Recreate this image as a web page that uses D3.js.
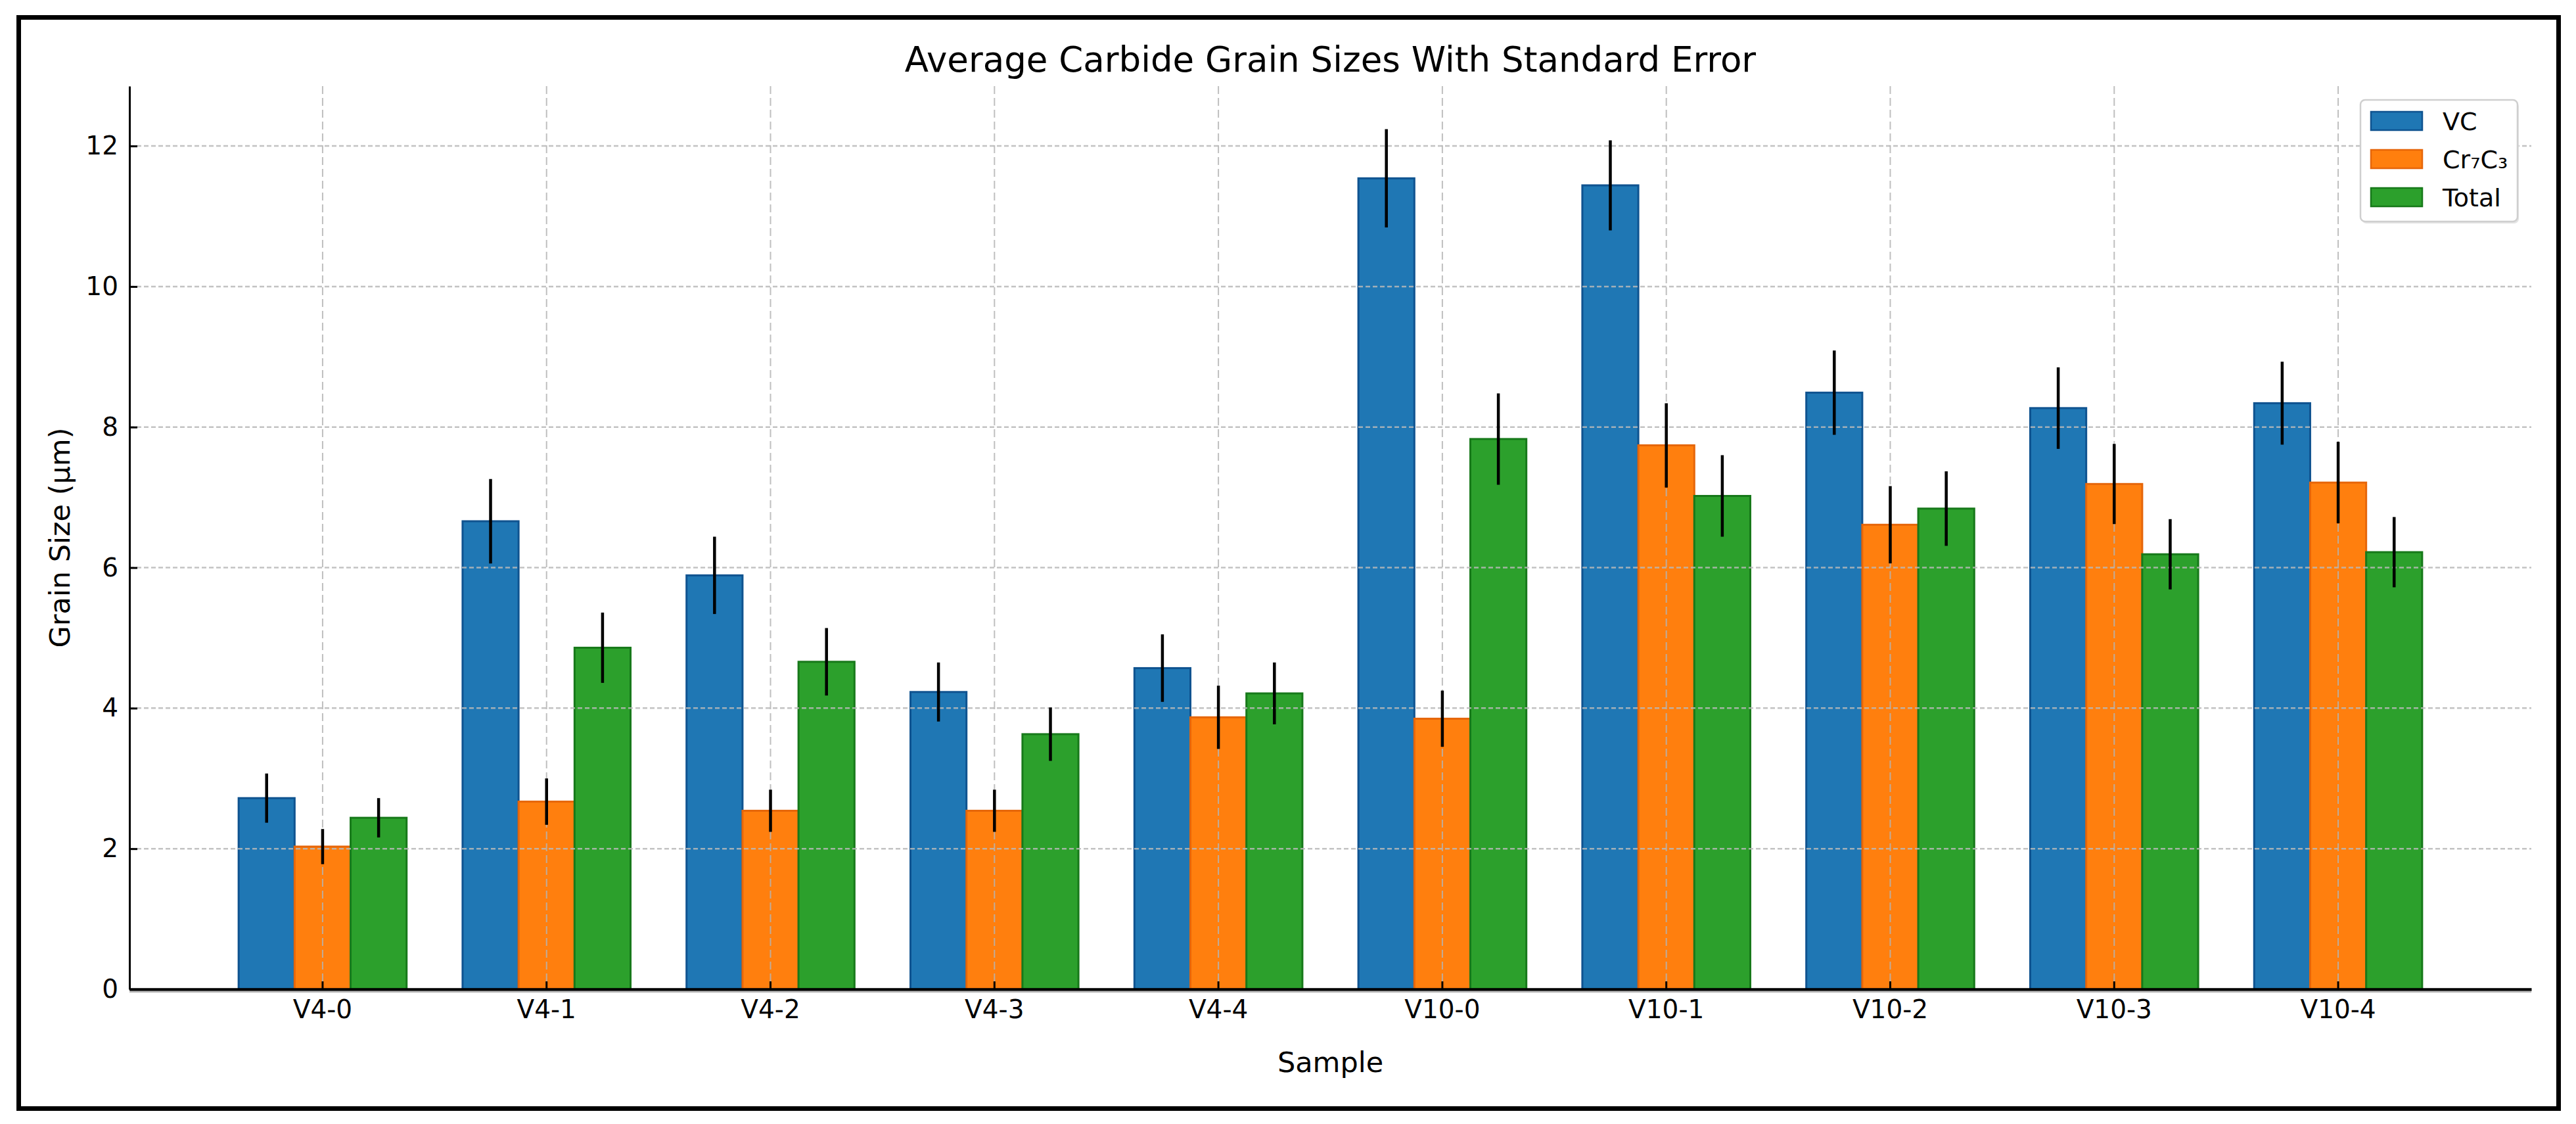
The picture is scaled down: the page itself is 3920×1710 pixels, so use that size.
<!DOCTYPE html>
<html>
<head>
<meta charset="utf-8">
<script src="https://cdn.jsdelivr.net/npm/d3@7"></script>
<style>
  html, body { margin: 0; padding: 0; background: #ffffff; }
  svg { display: block; }
  text { font-family: "DejaVu Sans", sans-serif; fill: #000; }
</style>
</head>
<body>
<svg id="chart" width="3920" height="1710"></svg>
<script>
// ---- data ----
const categories = ["V4-0","V4-1","V4-2","V4-3","V4-4","V10-0","V10-1","V10-2","V10-3","V10-4"];
const seriesNames = ["VC", "Cr\u2087C\u2083", "Total"];
const vcValues    = [2.72, 6.66, 5.89, 4.23, 4.57, 11.54, 11.44, 8.49, 8.27, 8.34];
const vcErrors    = [0.35, 0.60, 0.55, 0.42, 0.48, 0.70, 0.64, 0.60, 0.58, 0.59];
const crValues    = [2.03, 2.67, 2.54, 2.54, 3.87, 3.85, 7.74, 6.61, 7.19, 7.21];
const crErrors    = [0.25, 0.33, 0.30, 0.30, 0.45, 0.40, 0.60, 0.55, 0.57, 0.58];
const totalValues = [2.44, 4.86, 4.66, 3.63, 4.21, 7.83, 7.02, 6.84, 6.19, 6.22];
const totalErrors = [0.28, 0.50, 0.48, 0.38, 0.44, 0.65, 0.58, 0.53, 0.50, 0.50];
const yTicks = [0, 2, 4, 6, 8, 10, 12];
const titleText = "Average Carbide Grain Sizes With Standard Error";
const xLabelText = "Sample";
const yLabelText = "Grain Size (\u00b5m)";

// ---- styles ----
const fills  = ["#1f77b4", "#ff7f0e", "#2ca02c"];
const edges  = ["#0f5390", "#e6660a", "#17791a"];

const series = [
  { name: seriesNames[0], values: vcValues,    errors: vcErrors },
  { name: seriesNames[1], values: crValues,    errors: crErrors },
  { name: seriesNames[2], values: totalValues, errors: totalErrors }
];

const svg = d3.select("#chart");
svg.append("rect").attr("width", 3920).attr("height", 1710).attr("fill", "#fff");

const pL = 197, pR = 3852, pT = 131, pB = 1505;

// y range max: include error bars plus 5% margin (matplotlib autoscale)
let maxTop = 0;
series.forEach(s => s.values.forEach((v, i) => { maxTop = Math.max(maxTop, v + s.errors[i]); }));
const yMax = maxTop * 1.05;

const x0 = d3.scaleBand().domain(categories).range([pL, pR]).paddingInner(0).paddingOuter(0.3625);
const step = x0.step();
const x1 = d3.scaleBand().domain(seriesNames).range([0.125 * step, 0.875 * step]).padding(0);
const y = d3.scaleLinear().domain([0, yMax]).range([pB, pT]);

// ---- bars ----
const groups = svg.append("g").selectAll("g.cat")
  .data(categories).enter().append("g")
  .attr("transform", d => `translate(${x0(d)},0)`);

series.forEach((s, si) => {
  groups.append("rect")
    .attr("x", (d, i) => x1(s.name))
    .attr("y", (d, i) => y(s.values[i]))
    .attr("width", x1.bandwidth())
    .attr("height", (d, i) => y(0) - y(s.values[i]))
    .attr("fill", fills[si])
    .attr("stroke", edges[si])
    .attr("stroke-width", 3);
});

// ---- grid (drawn over bars) ----
const grid = svg.append("g");
grid.selectAll("line.h").data(yTicks.filter(t => t > 0)).enter().append("line")
  .attr("x1", pL).attr("x2", pR)
  .attr("y1", d => y(d)).attr("y2", d => y(d))
  .attr("stroke", "#b8b8b8").attr("stroke-opacity", 0.85)
  .attr("stroke-width", 2.5).attr("stroke-dasharray", "7,4");
grid.selectAll("line.v").data(categories).enter().append("line")
  .attr("x1", d => x0(d) + step / 2).attr("x2", d => x0(d) + step / 2)
  .attr("y1", pT).attr("y2", pB)
  .attr("stroke", "#b4b4b4").attr("stroke-opacity", 0.85)
  .attr("stroke-width", 2).attr("stroke-dasharray", "12,6");

// ---- error bars (above grid) ----
const errGroups = svg.append("g").selectAll("g.err")
  .data(categories).enter().append("g")
  .attr("transform", d => `translate(${x0(d)},0)`);
series.forEach((s, si) => {
  errGroups.append("line")
    .attr("x1", d => x1(s.name) + x1.bandwidth() / 2)
    .attr("x2", d => x1(s.name) + x1.bandwidth() / 2)
    .attr("y1", (d, i) => y(s.values[i] - s.errors[i]))
    .attr("y2", (d, i) => y(s.values[i] + s.errors[i]))
    .attr("stroke", "#000").attr("stroke-width", 4.5);
});

// ---- axes ----
const yAxis = d3.axisLeft(y).tickValues(yTicks).tickFormat(d3.format("d"))
  .tickSizeInner(-12).tickSizeOuter(0).tickPadding(17);
const gy = svg.append("g").attr("transform", `translate(${pL},0)`).call(yAxis);
gy.select(".domain").attr("stroke", "#000").attr("stroke-width", 3);
gy.selectAll(".tick line").attr("stroke", "#000").attr("stroke-width", 3);
gy.selectAll(".tick text").style("font-size", "39px").style("font-family", "DejaVu Sans").attr("fill", "#000");

const xAxis = d3.axisBottom(x0).tickSizeInner(-12).tickSizeOuter(0).tickPadding(16);
const gx = svg.append("g").attr("transform", `translate(0,${pB})`).call(xAxis);
gx.select(".domain").attr("stroke", "#000").attr("stroke-width", 4.5);
gx.selectAll(".tick line").attr("stroke", "#000").attr("stroke-width", 3);
gx.selectAll(".tick text").style("font-size", "39px").style("font-family", "DejaVu Sans").attr("fill", "#000");

// subtle shadow under x axis
svg.append("line").attr("x1", pL).attr("x2", pR).attr("y1", pB + 4).attr("y2", pB + 4)
  .attr("stroke", "#bbbbbb").attr("stroke-width", 2.5);

// ---- titles ----
svg.append("text").attr("x", (pL + pR) / 2).attr("y", 109)
  .attr("text-anchor", "middle").style("font-size", "53px").text(titleText);
svg.append("text").attr("x", (pL + pR) / 2).attr("y", 1631)
  .attr("text-anchor", "middle").style("font-size", "43px").text(xLabelText);
svg.append("text").attr("transform", `translate(106,${(pT + pB) / 2}) rotate(-90)`)
  .attr("text-anchor", "middle").style("font-size", "43px").text(yLabelText);

// ---- legend ----
const lg = svg.append("g").attr("transform", "translate(3592,152)");
lg.append("rect").attr("x", 2).attr("y", 3).attr("width", 239).attr("height", 185).attr("rx", 7)
  .attr("fill", "#e4e4e4");
lg.append("rect").attr("width", 239).attr("height", 185).attr("rx", 7)
  .attr("fill", "#fff").attr("stroke", "#cfcfcf").attr("stroke-width", 2.5);
const rows = lg.selectAll("g.row").data(series).enter().append("g")
  .attr("transform", (d, i) => `translate(0,${18 + i * 58})`);
rows.append("rect").attr("x", 16).attr("y", 0).attr("width", 78).attr("height", 28)
  .attr("fill", (d, i) => fills[i]).attr("stroke", (d, i) => edges[i]).attr("stroke-width", 2.5);
rows.append("text").attr("x", 125).attr("y", 14).attr("dy", "0.36em")
  .style("font-size", "38px").text(d => d.name);

// ---- outer frame ----
svg.append("rect").attr("x", 28.5).attr("y", 26.5).attr("width", 3865).attr("height", 1660)
  .attr("fill", "none").attr("stroke", "#000").attr("stroke-width", 7);
</script>
</body>
</html>
